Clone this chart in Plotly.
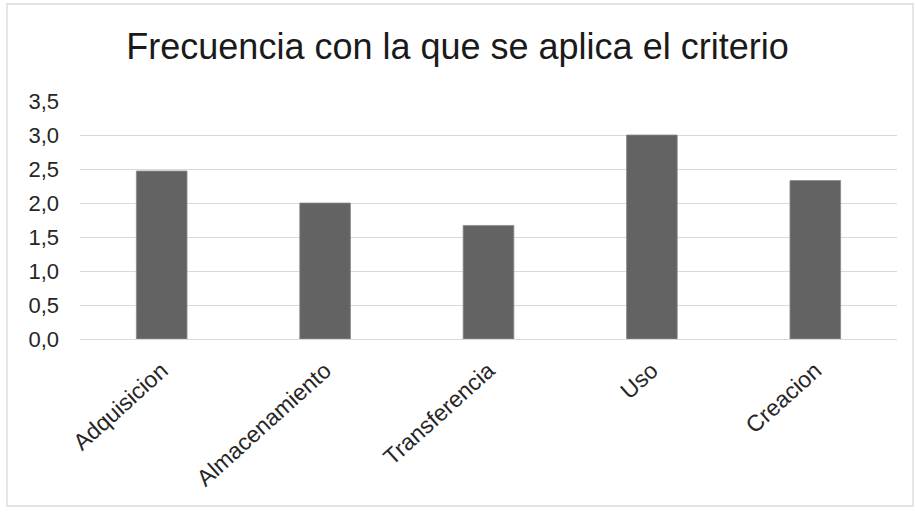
import plotly.graph_objects as go

categories = ["Adquisicion", "Almacenamiento", "Transferencia", "Uso", "Creacion"]
values = [2.47, 2.0, 1.67, 3.0, 2.33]
tick_vals = [0, 0.5, 1.0, 1.5, 2.0, 2.5, 3.0, 3.5]

W, H = 915, 513
L, R, T, B = 80, 18, 101, 174
pw, ph = W - L - R, H - T - B

fig = go.Figure(go.Bar(
    x=categories, y=values, width=0.31,
    marker=dict(color="#636363", line=dict(color="#8a8a8a", width=0.8)),
))

fig.update_layout(
    width=W, height=H,
    margin=dict(l=L, r=R, t=T, b=B),
    paper_bgcolor="white", plot_bgcolor="white",
    separators=",.",
    showlegend=False,
    font=dict(family="Liberation Sans, Arial, sans-serif", color="#262626"),
    title=dict(text="Frecuencia con la que se aplica el criterio",
               x=0.5, xref="container", xanchor="center",
               y=1 - 46 / H, yref="container", yanchor="middle",
               font=dict(size=36, color="#1a1a1a", family="Liberation Sans, Arial, sans-serif")),
)

fig.update_yaxes(range=[0, 3.5], tickvals=tick_vals, tickformat=".1f",
                 showgrid=True, gridcolor="#d9d9d9", gridwidth=1.3,
                 zeroline=False, showline=False, ticks="",
                 ticklabelstandoff=20,
                 tickfont=dict(size=22, color="#262626"))
fig.update_xaxes(tickangle=-42, showline=True, linecolor="#d9d9d9", linewidth=1.3,
                 ticks="", ticklabelstandoff=8,
                 tickfont=dict(size=23, color="#262626"))

fig.add_shape(type="rect", xref="paper", yref="paper",
              x0=(7 - L) / pw, x1=(913 - L) / pw,
              y0=(H - B - 506) / ph, y1=(H - B - 4) / ph,
              line=dict(color="#d9d9d9", width=1.3), fillcolor="rgba(0,0,0,0)", layer="below")

fig.write_html("out.html",
               config={"displayModeBar": False},
               post_script="document.body.style.margin='0';document.body.style.overflow='hidden';")
